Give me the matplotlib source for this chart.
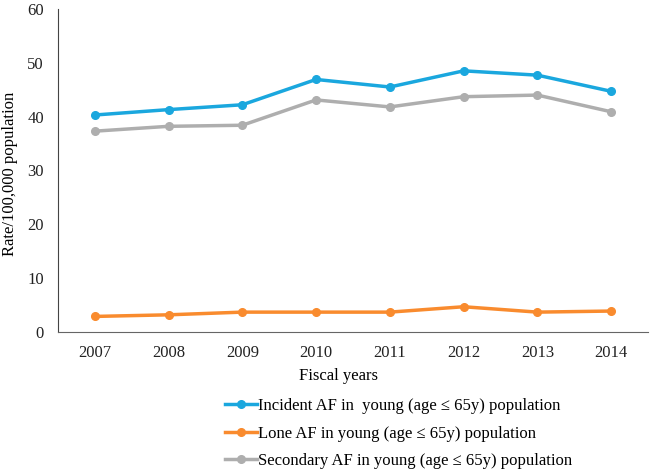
import matplotlib

matplotlib.use("Agg")
import matplotlib.pyplot as plt

years = ["2007", "2008", "2009", "2010", "2011", "2012", "2013", "2014"]
incident = [40.3, 41.3, 42.2, 46.9, 45.5, 48.5, 47.7, 44.7]
lone = [2.9, 3.2, 3.7, 3.7, 3.7, 4.7, 3.7, 3.9]
secondary = [37.3, 38.2, 38.4, 43.1, 41.8, 43.7, 44.0, 40.9]

labels = [
    "Incident AF in  young (age \u2264 65y) population",
    "Lone AF in young (age \u2264 65y) population",
    "Secondary AF in young (age \u2264 65y) population",
]
colors = ["#1aa7de", "#f98b2e", "#aeaeae"]

plt.rcParams["font.family"] = ["Liberation Serif", "DejaVu Serif"]

fig = plt.figure(figsize=(6.5, 4.69), dpi=100)
ax = fig.add_axes([0.089, 0.292, 0.908, 0.689])

x = list(range(len(years)))
for series, label, color in zip([incident, lone, secondary], labels, colors):
    ax.plot(x, series, color=color, lw=2.5, marker="o", ms=5.5, label=label)

ax.set_xlim(-0.5, len(years) - 0.5)
ax.set_ylim(0, 60)
ax.set_yticks(range(0, 61, 10))
ax.set_xticks(x)
ax.set_xticklabels(years)
ax.tick_params(axis="both", length=0, labelsize=12, colors="#222222")
ax.tick_params(axis="x", pad=9)
ax.tick_params(axis="y", pad=10)
ax.spines["top"].set_visible(False)
ax.spines["right"].set_visible(False)
ax.spines["left"].set_color("#444444")
ax.spines["bottom"].set_color("#666666")
ax.set_xlabel("Fiscal years", fontsize=12)
ax.set_ylabel("Rate/100,000 population", fontsize=12)
ax.xaxis.set_label_coords(0.475, -0.112)
ax.yaxis.set_label_coords(-0.068, 0.49)

ax.legend(
    loc="upper left",
    bbox_to_anchor=(0.283, -0.205),
    frameon=False,
    fontsize=12,
    handlelength=1.9,
    handletextpad=0.1,
    labelspacing=0.68,
    borderaxespad=0,
    borderpad=0,
)

fig.savefig("out.png", dpi=100)
